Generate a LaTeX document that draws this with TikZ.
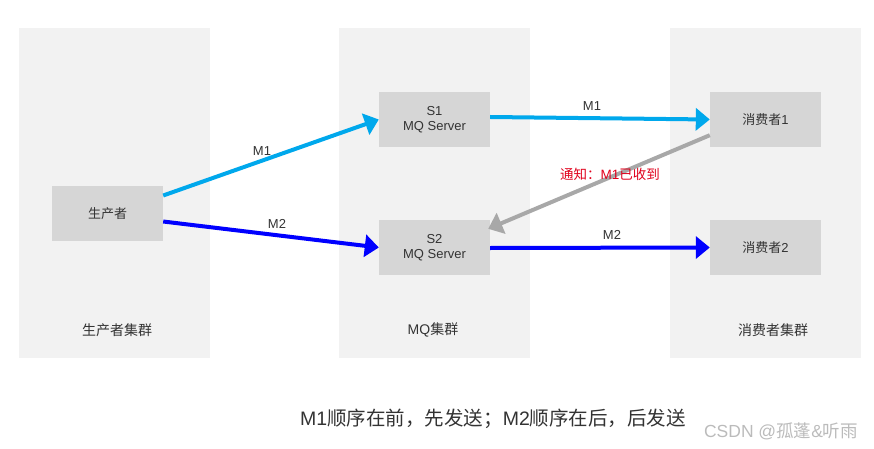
\documentclass[tikz,border=0pt]{standalone}
\usepackage{fontspec}
\setmainfont{Liberation Sans}
\newfontfamily\cjk{Noto Sans CJK SC}
\usetikzlibrary{arrows.meta}
\definecolor{groupbg}{HTML}{F2F2F2}
\definecolor{boxbg}{HTML}{D6D6D6}
\definecolor{msgone}{HTML}{00A8EC}
\definecolor{msgtwo}{HTML}{0000FF}
\definecolor{ackgray}{HTML}{A8A8A8}
\definecolor{ackred}{HTML}{E0001B}
\definecolor{textgray}{HTML}{333333}
\definecolor{markgray}{HTML}{BBBBBB}

\begin{document}
\begin{tikzpicture}[x=1pt,y=-1pt,
        grp/.style={fill=groupbg},
        box/.style={fill=boxbg,minimum width=111pt,minimum height=55pt,inner sep=0pt,
            align=center,text=textgray,font=\fontsize{13}{15}\selectfont},
        grplabel/.style={text=textgray,font=\fontsize{14}{16}\selectfont},
        lbl/.style={text=textgray,font=\fontsize{13}{15}\selectfont},
        msg/.style={line width=4pt,-{Triangle[length=14pt,width=22pt]}}]
        \useasboundingbox (0,0) rectangle (874,449);
        % cluster backgrounds
        \fill [grp] (19,28) rectangle (210,358);
        \fill [grp] (339,28) rectangle (530,358);
        \fill [grp] (670,28) rectangle (861,358);
        \node [grplabel] (Pg) at (117,330) {\cjk 生产者集群};
        \node [grplabel] (Mg) at (433,330) {MQ{\cjk 集群}};
        \node [grplabel] (Cg) at (773,330) {\cjk 消费者集群};
        % boxes
        \node [box] (P) at (107.5,213.5) {\cjk 生产者};
        \node [box] (S1) at (434.5,119.5) {S1\\[0pt]MQ Server};
        \node [box] (S2) at (434.5,247.5) {S2\\[0pt]MQ Server};
        \node [box] (C1) at (765.5,119.5) {{\cjk 消费者}1};
        \node [box] (C2) at (765.5,247.5) {{\cjk 消费者}2};
        % messages
        \draw [msg,msgone] ([yshift=18pt]P.east) -- (S1.west);
        \draw [msg,msgtwo] ([yshift=-8pt]P.east) -- (S2.west);
        \draw [msg,msgone] ([yshift=2.5pt]S1.east) -- (C1.west);
        \draw [msg,msgtwo] ([yshift=-0.5pt]S2.east) -- (C2.west);
        \draw [msg,ackgray] ([yshift=12pt]C1.south west) -- ([yshift=-9pt,xshift=-2pt]S2.north east);
        \node [lbl] (M1a) at (262,151) {M1};
        \node [lbl] (M2a) at (277,224) {M2};
        \node [lbl] (M1b) at (592,106) {M1};
        \node [lbl] (M2b) at (612,235) {M2};
        \node [text=ackred,font=\fontsize{13.5}{15}\selectfont] (Ack) at (610,174) {{\cjk 通知：}M1{\cjk 已收到}};
        % notes
        \node [text=textgray,font=\fontsize{19.5}{22}\selectfont] (Note) at (493,419)
            {M1{\cjk 顺序在前，先发送；}M2{\cjk 顺序在后，后发送}};
        \node [text=markgray,font=\fontsize{17.5}{20}\selectfont] (Mark) at (781,431) {CSDN @{\cjk 孤蓬}\&{\cjk 听雨}};
\end{tikzpicture}
\end{document}
